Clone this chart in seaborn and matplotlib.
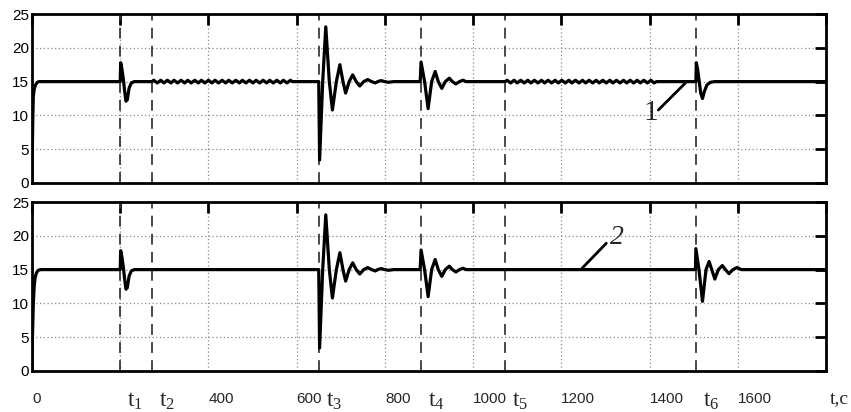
import matplotlib
matplotlib.use("Agg")
import numpy as np
import pandas as pd
import seaborn as sns
import matplotlib.pyplot as plt
from matplotlib import transforms

# ---------------- data ----------------
events = [200, 272, 650, 882, 1073, 1505]          # t1 .. t6
event_names = ["1", "2", "3", "4", "5", "6"]
num_ticks = [0, 400, 600, 800, 1000, 1200, 1400, 1600]
grid_x = [0, 200, 400, 600, 800, 1000, 1200, 1400, 1600, 1800]
y_ticks = [0, 5, 10, 15, 20, 25]

rise_top_t = [0, 1, 2, 3, 5, 8, 12, 16]
rise_top_y = [0, 6, 10, 12.8, 13.9, 14.5, 14.9, 15]
rise_bot_t = [0, 1, 3, 5, 7, 10, 14, 20]
rise_bot_y = [0, 5, 10, 12.5, 13.8, 14.5, 14.9, 15]

t1_t = [200, 201, 204, 207, 210, 213, 216, 220, 225, 232]
t1_y = [15, 17.8, 16.8, 15.4, 13.6, 12.1, 12.3, 14.0, 14.8, 15]

rip2_t = [272, 276, 284, 292, 299, 307, 315, 322, 330, 338, 346,
          353, 361, 369, 377, 384, 392, 400, 408, 415, 423,
          431, 439, 446, 454, 462, 470, 477, 485, 493, 501,
          508, 516, 524, 532, 539, 547, 555, 563, 570, 578,
          586, 590]
rip2_y = [15, 15.2, 14.8, 15.2, 14.8, 15.2, 14.8, 15.2, 14.8, 15.2, 14.8,
          15.2, 14.8, 15.2, 14.8, 15.2, 14.8, 15.2, 14.8, 15.2, 14.8,
          15.2, 14.8, 15.2, 14.8, 15.2, 14.8, 15.2, 14.8, 15.2, 14.8,
          15.2, 14.8, 15.2, 14.8, 15.2, 14.8, 15.2, 14.8, 15.2, 14.8,
          15.2, 15]

t3_t = [650, 652, 659, 666, 674, 681, 690, 698, 705, 711, 719, 727,
        735, 743, 752, 761, 770, 778, 784, 791, 800, 808, 820]
t3_y = [15, 3.4, 15, 23.1, 15, 10.8, 15, 17.5, 15, 13.3, 15, 16.0,
        15, 14.35, 15, 15.3, 15, 14.8, 15, 15.15, 15, 14.9, 15]

t4_t = [880, 882, 890, 898, 906, 914, 921, 929, 937, 946, 953, 961,
        969, 977, 984, 991]
t4_y = [15, 17.9, 15, 11.0, 15, 16.5, 15, 14.0, 15, 15.5, 15, 14.65,
        15, 15.2, 15, 15]

rip5_t = [1073, 1077, 1085, 1093, 1100, 1108, 1116, 1124, 1131, 1139, 1147,
          1155, 1162, 1170, 1178, 1186, 1193, 1201, 1209, 1217, 1224,
          1232, 1240, 1248, 1255, 1263, 1271, 1279, 1286, 1294, 1302,
          1310, 1317, 1325, 1333, 1341, 1348, 1356, 1364, 1372, 1379,
          1387, 1395, 1403, 1410, 1416]
rip5_y = [15, 15.2, 14.8, 15.2, 14.8, 15.2, 14.8, 15.2, 14.8, 15.2, 14.8,
          15.2, 14.8, 15.2, 14.8, 15.2, 14.8, 15.2, 14.8, 15.2, 14.8,
          15.2, 14.8, 15.2, 14.8, 15.2, 14.8, 15.2, 14.8, 15.2, 14.8,
          15.2, 14.8, 15.2, 14.8, 15.2, 14.8, 15.2, 14.8, 15.2, 14.8,
          15.2, 14.8, 15.2, 14.8, 15]

t6_top_t = [1505, 1506, 1509, 1512, 1516, 1520, 1524, 1530, 1538, 1548]
t6_top_y = [15, 17.8, 16.8, 15.3, 13.3, 12.5, 13.5, 14.5, 14.9, 15]

t6_bot_t = [1504, 1505, 1512, 1520, 1528, 1535, 1541, 1548, 1556, 1565,
            1572, 1580, 1589, 1598, 1608, 1620]
t6_bot_y = [15, 18.1, 15, 10.3, 15, 16.2, 15, 13.6, 15, 15.6,
            15, 14.4, 15, 15.3, 15, 15]

end_t = [1800]
end_y = [15]


def build(segs):
    t, y = [], []
    for st, sy in segs:
        assert len(st) == len(sy)
        t += list(st)
        y += list(sy)
    return pd.DataFrame({"t": t, "y": y})


df_top = build([(rise_top_t, rise_top_y), (t1_t, t1_y), (rip2_t, rip2_y),
                (t3_t, t3_y), (t4_t, t4_y), (rip5_t, rip5_y),
                (t6_top_t, t6_top_y), (end_t, end_y)])
df_bot = build([(rise_bot_t, rise_bot_y), (t1_t, t1_y), (t3_t, t3_y),
                (t4_t, t4_y), (t6_bot_t, t6_bot_y), (end_t, end_y)])

# ---------------- style ----------------
sns.set_style("white")
plt.rcParams["font.family"] = ["Liberation Sans", "DejaVu Sans"]
plt.rcParams["mathtext.fontset"] = "custom"
plt.rcParams["mathtext.rm"] = "Liberation Serif"
plt.rcParams["mathtext.it"] = "Liberation Serif:italic"

fig = plt.figure(figsize=(8.51, 4.12), dpi=100)
W, H = 851.0, 412.0
ax_top = fig.add_axes([32 / W, 1 - 183 / H, (826 - 32) / W, (183 - 14) / H])
ax_bot = fig.add_axes([32 / W, 1 - 371 / H, (826 - 32) / W, (371 - 202) / H])

for ax, df in [(ax_top, df_top), (ax_bot, df_bot)]:
    ax.set_xlim(0, 1800)
    ax.set_ylim(0, 25)
    ax.set_xticks(grid_x)
    ax.set_yticks(y_ticks)
    ax.set_xticklabels([])
    ax.set_yticklabels([str(v) for v in y_ticks], fontsize=11)
    ax.tick_params(direction="in", length=8, width=2, top=True, right=True,
                   pad=2, colors="black")
    ax.grid(True, linestyle=(0, (1, 2)), color="#8a8a8a", linewidth=0.9)
    for sp in ax.spines.values():
        sp.set_linewidth(2)
        sp.set_color("black")
    for ev in events:
        ax.axvline(ev, color="#3a3a3a", linestyle=(0, (6, 4)), linewidth=1.3, zorder=2)
    sns.lineplot(data=df, x="t", y="y", ax=ax, color="black", linewidth=2.3,
                 estimator=None, sort=False, zorder=3)
    ax.set_xlabel("")
    ax.set_ylabel("")

# bottom x labels
trans = transforms.blended_transform_factory(ax_bot.transData, ax_bot.transAxes)
for v in num_ticks:
    ax_bot.text(v, -0.19, str(v), transform=trans, ha="left", va="baseline",
                fontsize=11, clip_on=False)
for ev, nm in zip(events, event_names):
    tr = trans + transforms.ScaledTranslation(7 / 100, 0, fig.dpi_scale_trans)
    ax_bot.text(ev, -0.213, r"$\mathrm{t}_{" + nm + "}$", transform=tr,
                ha="left", va="baseline", fontsize=17, clip_on=False)
ax_bot.text(1808, -0.19, "t,c", transform=trans, ha="left", va="baseline",
            fontsize=14, family="Liberation Serif", clip_on=False)

# curve annotations
ax_top.plot([1420, 1482], [10.8, 14.84], color="black", linewidth=2)
ax_top.text(1403, 10.3, "1", ha="center", va="center", fontsize=21,
            family="Liberation Serif")
ax_bot.plot([1247, 1302], [15.2, 18.9], color="black", linewidth=2)
ax_bot.text(1326, 19.7, "2", ha="center", va="center", fontsize=20,
            family="Liberation Serif", style="italic")

fig.savefig("out.png", dpi=100)
